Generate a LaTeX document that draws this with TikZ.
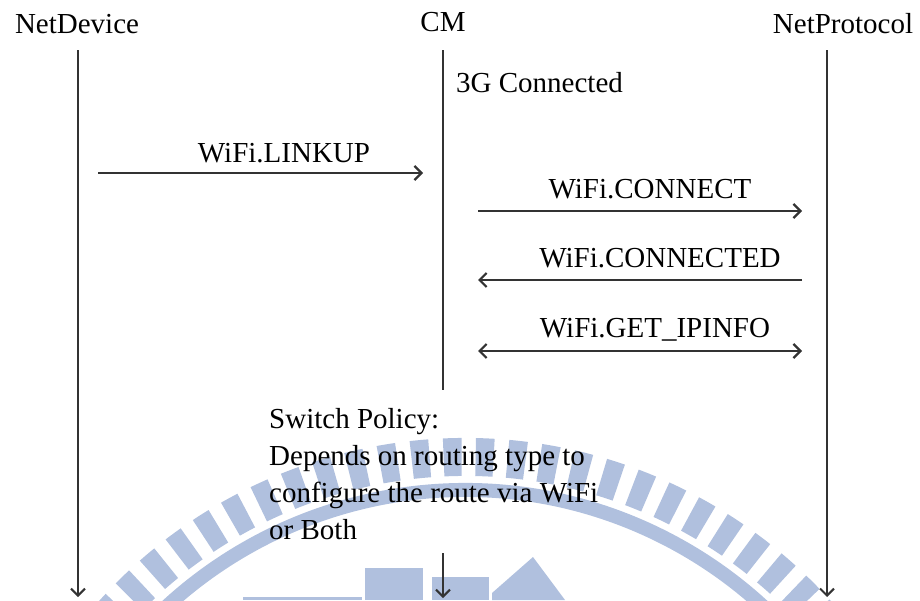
\documentclass[tikz,border=0pt]{standalone}
\usepackage{fontspec}
\setmainfont{Liberation Serif}
\usetikzlibrary{arrows.meta}
\definecolor{wmblue}{RGB}{176,192,222}
\tikzset{
  life/.style={draw=black!80,line width=2pt},
  msg/.style={draw=black!80,line width=2.2pt},
  tip/.style={-{Straight Barb[length=7pt,width=14pt]}},
  lbl/.style={anchor=base,inner sep=0pt,font=\fontsize{29}{37}\selectfont},
}
\begin{document}
\begin{tikzpicture}[x=1pt,y=-1pt]
\useasboundingbox (0,0) rectangle (920,600);
\begin{scope}
\clip (0,0) rectangle (920,600);
\draw[wmblue,line width=14pt] (465,930) ++(210:440) arc (210:330:440);
\draw[wmblue,line width=38pt,dash pattern=on 18pt off 14pt,dash phase=6pt] (465,930) ++(210:473) arc (210:330:473);
\fill[wmblue] (365,568) rectangle (423,600);
\fill[wmblue] (432,577) rectangle (489,600);
\fill[wmblue] (492,593) -- (533,557) -- (565,600) -- (492,600) -- cycle;
\fill[wmblue] (243,597) rectangle (362,600);
\end{scope}
\node[lbl] (netdev) at (77,33) {NetDevice};
\node[lbl] (cm) at (443,31) {CM};
\node[lbl] (netproto) at (843,33) {NetProtocol};
\coordinate (devTop) at (78,50); \coordinate (devBot) at (78,597);
\coordinate (cmTop) at (443,50); \coordinate (cmMid) at (443,390);
\coordinate (cmLow) at (443,553); \coordinate (cmBot) at (443,598);
\coordinate (protTop) at (827,50); \coordinate (protBot) at (827,597);
\draw[life,tip] (devTop) -- (devBot);
\draw[life] (cmTop) -- (cmMid);
\draw[life,tip] (cmLow) -- (cmBot);
\draw[life,tip] (protTop) -- (protBot);
\node[lbl,anchor=base west] (conn3g) at (456,92) {3G Connected};
\node[lbl] (linkup) at (284,162) {WiFi.LINKUP};
\coordinate (linkupA) at (98,173); \coordinate (linkupB) at (423,173);
\draw[msg,tip] (linkupA) -- (linkupB);
\node[lbl] (connect) at (650,198) {WiFi.CONNECT};
\coordinate (connectA) at (478,211); \coordinate (connectB) at (802,211);
\draw[msg,tip] (connectA) -- (connectB);
\node[lbl] (connected) at (660,267) {WiFi.CONNECTED};
\coordinate (connectedA) at (802,280); \coordinate (connectedB) at (478,280);
\draw[msg,tip] (connectedA) -- (connectedB);
\node[lbl] (ipinfo) at (655,337) {WiFi.GET\_IPINFO};
\coordinate (ipinfoA) at (478,351); \coordinate (ipinfoB) at (802,351);
\draw[msg,{Straight Barb[length=7pt,width=14pt]}-{Straight Barb[length=7pt,width=14pt]}] (ipinfoA) -- (ipinfoB);
\node[lbl,anchor=north west,align=left] (policy) at (269,408)
  {Switch Policy:\\Depends on routing type to\\configure the route via WiFi\\or Both};
\end{tikzpicture}
\end{document}
